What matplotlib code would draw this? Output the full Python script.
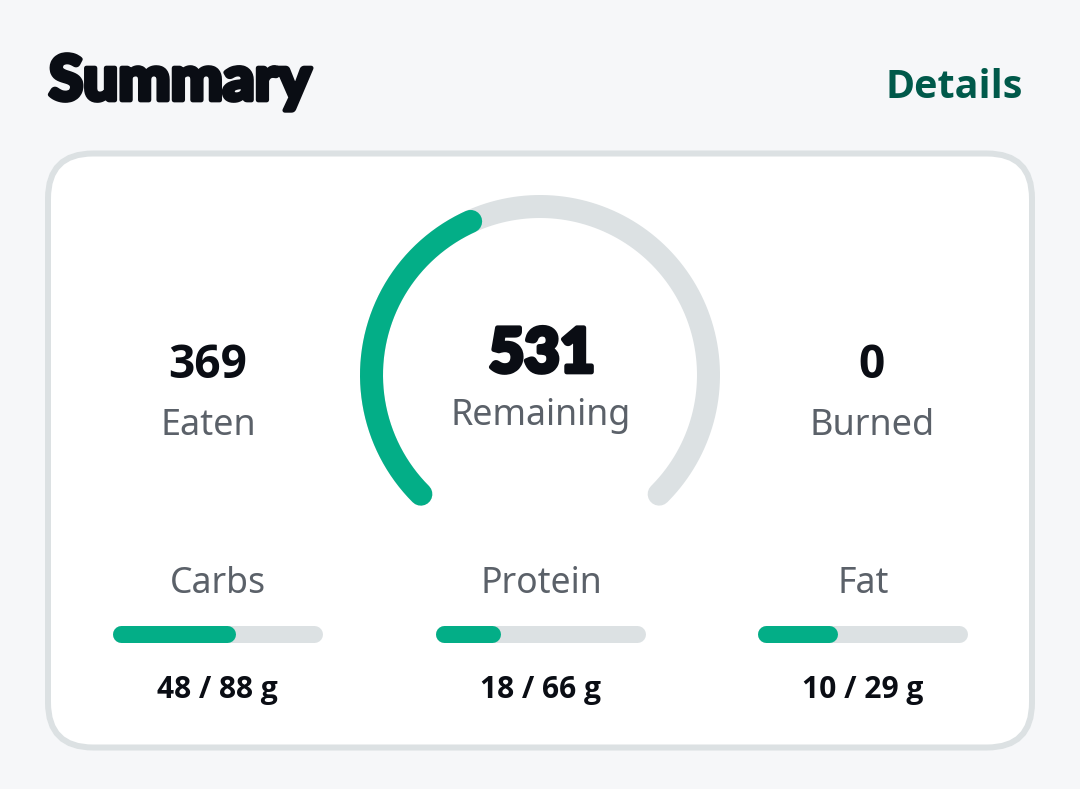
import numpy as np
import matplotlib
matplotlib.use('Agg')
import matplotlib.pyplot as plt
import matplotlib.patheffects as pe
from matplotlib.patches import FancyBboxPatch

# Values
eaten = 369
remaining = 531
burned = 0
macro_names = ['Carbs', 'Protein', 'Fat']
macro_eaten = [48, 18, 10]
macro_goal = [88, 66, 29]
# filled share of each bar, measured because it's not quite eaten/goal
macro_fill = [0.586, 0.311, 0.383]

BG = '#F6F7F9'
BORDER = '#DCE1E3'
GREEN = '#03AE87'
DARK = '#0A0D14'
GRAY = '#5B6169'
LINK = '#00594A'
FONT = 'Noto Sans'
BOLD = 'Open Sans'
HEAVY = 'Lato'


def px(n):
    # pixels to points at dpi 100
    return n * 72 / 100


fig = plt.figure(figsize=(10.8, 7.89), dpi=100, facecolor=BG)
ax = fig.add_axes([0, 0, 1, 1])
ax.set_xlim(0, 1080)
ax.set_ylim(789, 0)
ax.axis('off')

# Header
ax.text(49, 100, 'Summary', fontsize=px(62), family=HEAVY, fontweight='black', color=DARK,
        va='baseline', ha='left', path_effects=[pe.withStroke(linewidth=3.4, foreground=DARK)])
ax.text(1023, 98, 'Details', fontsize=px(39.5), family=BOLD, fontweight='bold', color=LINK,
        va='baseline', ha='right')

# Card
card = FancyBboxPatch((48 + 45, 153.5 + 45), 984 - 90, 594 - 90, boxstyle='round,pad=45,rounding_size=45',
                      facecolor='white', edgecolor=BORDER, linewidth=px(6))
ax.add_patch(card)

# Gauge: 270 degree sweep starting bottom left, going clockwise
cx, cy, r = 540, 375, 168.5
start = np.radians(225)
sweep = np.radians(270)
share = eaten / (eaten + remaining)
t_all = np.linspace(start, start - sweep, 300)
t_eat = np.linspace(start, start - sweep * share, 200)
ax.plot(cx + r * np.cos(t_all), cy - r * np.sin(t_all), color=BORDER, lw=px(23), solid_capstyle='round')
ax.plot(cx + r * np.cos(t_eat), cy - r * np.sin(t_eat), color=GREEN, lw=px(23), solid_capstyle='round')

# Centre and side numbers
ax.text(542, 372, str(remaining), fontsize=px(61), family=HEAVY, fontweight='black', color=DARK,
        ha='center', va='baseline', path_effects=[pe.withStroke(linewidth=3.4, foreground=DARK)])
ax.text(540.5, 425, 'Remaining', fontsize=px(35.8), family=FONT, color=GRAY, ha='center', va='baseline')
ax.text(208, 378, str(eaten), fontsize=px(46), family=BOLD, fontweight='bold', color=DARK, ha='center', va='baseline')
ax.text(208, 435, 'Eaten', fontsize=px(36), family=FONT, color=GRAY, ha='center', va='baseline')
ax.text(872, 378, str(burned), fontsize=px(46), family=BOLD, fontweight='bold', color=DARK, ha='center', va='baseline')
ax.text(872, 435, 'Burned', fontsize=px(36), family=FONT, color=GRAY, ha='center', va='baseline')

# Macro bars
bar_left = [112.5, 435.5, 757.5]
bar_w = 210
bar_h = 17
for name, got, goal, fill, x0 in zip(macro_names, macro_eaten, macro_goal, macro_fill, bar_left):
    mid = x0 + bar_w / 2
    ax.text(mid + 0.5, 593, name, fontsize=px(35.6), family=FONT, color=GRAY, ha='center', va='baseline')
    y = 634
    ax.plot([x0 + bar_h / 2, x0 + bar_w - bar_h / 2], [y, y], color=BORDER, lw=px(bar_h), solid_capstyle='round')
    ax.plot([x0 + bar_h / 2, x0 + bar_w * fill - bar_h / 2], [y, y], color=GREEN, lw=px(bar_h), solid_capstyle='round')
    ax.text(mid, 698, f'{got} / {goal} g', fontsize=px(30), family=BOLD, fontweight='bold', color=DARK,
            ha='center', va='baseline')

fig.savefig('out.png', dpi=100, facecolor=BG)
